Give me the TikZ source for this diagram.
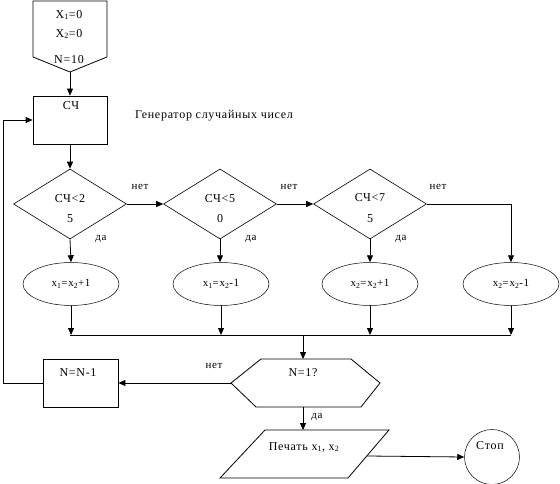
\documentclass[tikz,border=0pt]{standalone}
\usepackage{fontspec}
\setmainfont[LetterSpace=6]{Liberation Serif}
\usetikzlibrary{shapes.geometric,arrows.meta}
\begin{document}
\begin{tikzpicture}[x=1pt,y=-1pt,
  every node/.style={font=\fontsize{12}{14}\selectfont, inner sep=0pt},
  ln/.style={line width=0.8pt},
  arr/.style={line width=0.8pt,-{Triangle[length=7pt,width=6pt]}},
  dia/.style={diamond, draw, line width=0.6pt, minimum width=113pt, minimum height=70pt},
  ell/.style={ellipse, draw, line width=0.5pt, minimum width=96pt, minimum height=43pt, font=\fontsize{11}{13}\selectfont},
  box/.style={rectangle, draw, line width=0.8pt},
  lbl/.style={font=\fontsize{11}{13}\selectfont},
]
\useasboundingbox (0,0) rectangle (560,484);
% start shape
\draw[ln] (33,1) -- (107,1) -- (107,57) -- (70,72) -- (33,57) -- cycle;
\coordinate (startP) at (70,72);
\node (x1) at (69,15) {X\textsubscript{1}=0};
\node (x2) at (69,34) {X\textsubscript{2}=0};
\node (n10) at (69,60) {N=10};
% generator box
\node[box, minimum width=74pt, minimum height=48pt] (cnt) at (70,120) {};
\node (cntt) at (71,106) {СЧ};
\node (gen) at (214,116) {Генератор случайных чисел};
% diamonds
\node[dia] (d1) at (70,204) {};
\node[dia] (d2) at (220,204) {};
\node[dia] (d3) at (370,204) {};
\node (d1a) at (70,199) {СЧ<2};
\node (d1b) at (70,219) {5};
\node (d2a) at (220,199) {СЧ<5};
\node (d2b) at (220,219) {0};
\node (d3a) at (370,198) {СЧ<7};
\node (d3b) at (370,219) {5};
\node[lbl] (no1) at (140,187) {нет};
\node[lbl] (no2) at (289,187) {нет};
\node[lbl] (no3) at (438,187) {нет};
\node[lbl] (yes1) at (101,239) {да};
\node[lbl] (yes2) at (251,239) {да};
\node[lbl] (yes3) at (401,239) {да};
% ellipses
\node[ell] (e1) at (71,284) {x\textsubscript{1}=x\textsubscript{2}+1};
\node[ell] (e2) at (221,284) {x\textsubscript{1}=x\textsubscript{2}-1};
\node[ell] (e3) at (370,284) {x\textsubscript{2}=x\textsubscript{2}+1};
\node[ell] (e4) at (511,284) {x\textsubscript{2}=x\textsubscript{2}-1};
% bus
\coordinate (busL) at (70,335);
\coordinate (busR) at (511,335);
\coordinate (busM) at (303,335);
% hexagon
\draw[ln] (231,383) -- (261,359) -- (351,359) -- (380,383) -- (361,407) -- (256,407) -- cycle;
\coordinate (hexL) at (231,383);
\coordinate (hexT) at (303,359);
\coordinate (hexB) at (303,407);
\node (hext) at (303,373) {N=1?};
\node[lbl] (no4) at (214,366) {нет};
\node[lbl] (yes4) at (317,417) {да};
% N=N-1 box
\node[box, minimum width=75pt, minimum height=48pt] (nb) at (80.5,383) {};
\node (nbt) at (78,373) {N=N-1};
% parallelogram
\draw[ln] (265,430) -- (389,430) -- (348,478) -- (220,478) -- cycle;
\coordinate (parT) at (303,430);
\coordinate (parR) at (367,456);
\node (part) at (304,447) {Печать x\textsubscript{1}, x\textsubscript{2}};
% stop
\node[circle, draw, line width=0.5pt, minimum size=55pt] (stop) at (492,457) {};
\node (stopt) at (490,446) {Стоп};
% connectors
\draw[arr] (startP) -- (cnt.north);
\draw[arr] (cnt.south) -- (d1.north);
\draw[arr] (d1.east) -- (d2.west);
\draw[arr] (d2.east) -- (d3.west);
\draw[arr] (d3.east) -| (e4.north);
\draw[arr] (d1.south) -- (e1.north);
\draw[arr] (d2.south) -- (e2.north -| d2.south);
\draw[arr] (d3.south) -- (e3.north);
\draw[arr] (e1.south) -- (e1.south |- busL);
\draw[arr] (e2.south) -- (e2.south |- busL);
\draw[arr] (e3.south) -- (e3.south |- busL);
\draw[arr] (e4.south) -- (e4.south |- busL);
\draw[ln] (busL) -- (busR);
\draw[arr] (busM) -- (hexT);
\draw[arr] (hexL) -- (nb.east);
\draw[arr] (nb.west) -- ++(-39,0) |- (cnt.west);
\draw[arr] (hexB) -- (parT);
\draw[arr] (parR) -- (stop.west);
\end{tikzpicture}
\end{document}
